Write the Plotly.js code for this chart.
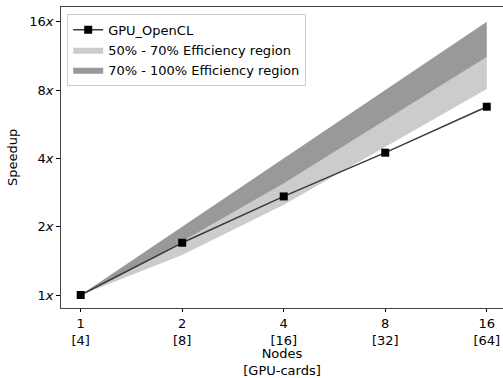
<!DOCTYPE html>
<html>
<head>
<meta charset="utf-8">
<script src="https://cdn.plot.ly/plotly-3.0.1.min.js"></script>
<style>html,body{margin:0;padding:0;background:#fff;}#chart{width:503px;height:378px;}</style>
</head>
<body>
<div id="chart"></div>
<script>
// Data
const nodes = [1, 2, 4, 8, 16];
const tickLabels = ["1<br>[4]", "2<br>[8]", "4<br>[16]", "8<br>[32]", "16<br>[64]"];
const gpuOpenCL = [1, 1.70, 2.72, 4.24, 6.76];
const eff50Lower = [1, 1.5, 2.5, 4.5, 8.1];
const eff70Lower = [1, 1.72, 3.1, 5.9, 11.2];
const eff100Upper = [1, 2, 4, 8, 16];
const yTickVals = [1, 2, 4, 8, 16];
const yTickText = ["1<i>x</i>", "2<i>x</i>", "4<i>x</i>", "8<i>x</i>", "16<i>x</i>"];

const FONT = "DejaVu Sans, sans-serif";
const FS = 13;
const traces = [
  {x: nodes, y: eff50Lower, mode: "lines", line: {width: 0, color: "rgba(0,0,0,0)"},
   showlegend: false, hoverinfo: "skip"},
  {x: nodes, y: eff70Lower, mode: "lines", line: {width: 0, color: "rgba(0,0,0,0)"},
   fill: "tonexty", fillcolor: "#cccccc", name: "50% - 70% Efficiency region", legendrank: 2},
  {x: nodes, y: eff100Upper, mode: "lines", line: {width: 0, color: "rgba(0,0,0,0)"},
   fill: "tonexty", fillcolor: "#999999", name: "70% - 100% Efficiency region", legendrank: 3},
  {x: nodes, y: gpuOpenCL, mode: "lines+markers", name: "GPU_OpenCL",
   line: {color: "#3a3a3a", width: 1.5},
   marker: {symbol: "square", size: 8, color: "#000000"}, legendrank: 1}
];

const layout = {
  width: 503, height: 378,
  margin: {l: 61, r: 0, t: 7, b: 70},
  paper_bgcolor: "#ffffff", plot_bgcolor: "#ffffff",
  font: {family: FONT, size: FS, color: "#000"},
  showlegend: true,
  legend: {x: 0.014, y: 0.977, xanchor: "left", yanchor: "top",
    bgcolor: "rgba(255,255,255,0.8)", bordercolor: "#cccccc", borderwidth: 1,
    font: {family: FONT, size: FS}, traceorder: "normal", itemwidth: 30},
  xaxis: {
    type: "log", range: [Math.log10(Math.pow(2, -0.194)), Math.log10(Math.pow(2, 4.16))],
    tickvals: nodes, ticktext: tickLabels, ticks: "outside", ticklen: 3, tickcolor: "#000",
    showgrid: false, zeroline: false, showline: true, linecolor: "#444", linewidth: 1, mirror: true,
    tickfont: {family: FONT, size: FS}, automargin: false,
    title: {text: "Nodes<br>[GPU-cards]", font: {family: FONT, size: FS}, standoff: 7}
  },
  yaxis: {
    type: "log", range: [Math.log10(Math.pow(2, -0.19)), Math.log10(Math.pow(2, 4.217))],
    tickvals: yTickVals, ticktext: yTickText, ticks: "outside", ticklen: 4, tickcolor: "#000",
    showgrid: false, zeroline: false, showline: true, linecolor: "#444", linewidth: 1, mirror: true,
    tickfont: {family: FONT, size: FS},
    title: {text: "Speedup", font: {family: FONT, size: FS}, standoff: 8}
  }
};
Plotly.newPlot("chart", traces, layout, {staticPlot: true, displayModeBar: false});
</script>
</body>
</html>
